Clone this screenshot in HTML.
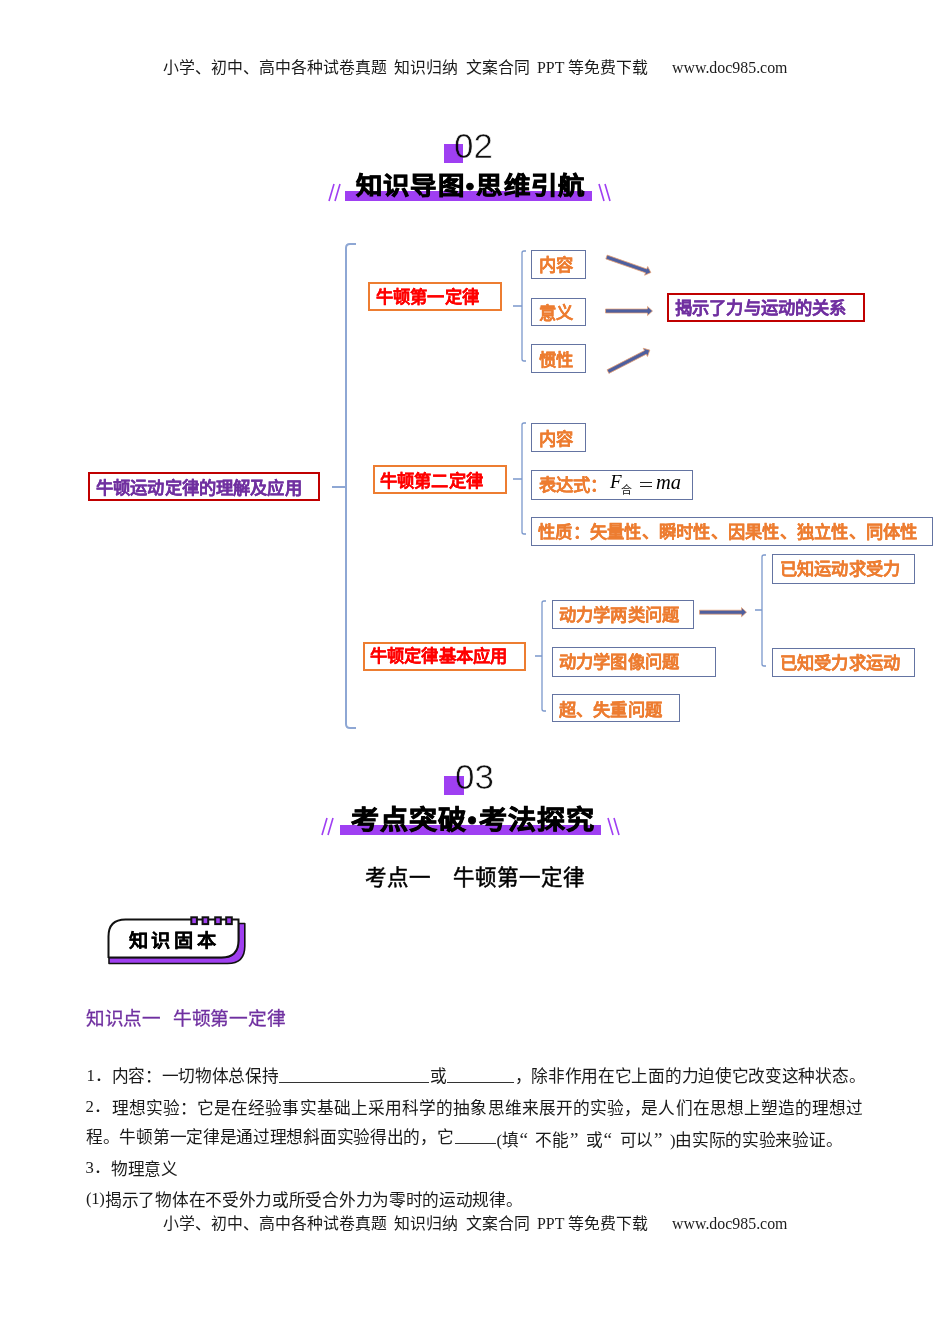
<!DOCTYPE html>
<html lang="zh-CN">
<head>
<meta charset="utf-8">
<style>
html,body{margin:0;padding:0;background:#fff;}
body{width:950px;height:1344px;position:relative;overflow:hidden;font-family:"Liberation Serif",serif;color:#000;}
.a{position:absolute;white-space:nowrap;line-height:1;}
svg.a{overflow:visible;}
.hdr{font-size:15.9px;color:#1a1a1a;}
.sq{position:absolute;background:#9f3ff2;}
.num{font-family:"Liberation Sans",sans-serif;font-size:35px;color:#111;-webkit-text-stroke:0.6px #fff;mix-blend-mode:multiply;}
.ttl{font-family:"Liberation Sans",sans-serif;font-weight:bold;font-size:24px;color:#000;-webkit-text-stroke:0.8px #000;}
.g{display:inline-block;}
.box{position:absolute;box-sizing:border-box;}
.ob{border:2px solid #ed7d31;}
.bb{border:1.5px solid #6474a2;}
.rb{border:2px solid #c00000;}
.mm{font-family:"Liberation Sans",sans-serif;font-weight:bold;font-size:17.3px;-webkit-text-stroke:0.12px currentColor;letter-spacing:0.15px;}
.red{color:#ff0000;}
.org{color:#ed7d31;}
.pur{color:#7030a0;}
.bt{font-size:16.7px;color:#1a1a1a;letter-spacing:-0.3px;}
.q{display:inline-block;width:17px;text-align:left;font-size:19px;text-indent:1px;}
.ul{position:absolute;height:1px;background:#333;}
</style>
</head>
<body>
<!-- header -->
<div class="a hdr" style="left:163px;top:60px;">小学、初中、高中各种试卷真题</div>
<div class="a hdr" style="left:394px;top:60px;">知识归纳</div>
<div class="a hdr" style="left:466px;top:60px;">文案合同</div>
<div class="a hdr" style="left:537px;top:60px;">PPT</div>
<div class="a hdr" style="left:568px;top:60px;">等免费下载</div>
<div class="a hdr" style="left:672px;top:60px;">www.doc985.com</div>

<!-- 02 -->
<div class="sq" style="left:444px;top:144px;width:19px;height:19px;"></div>
<div class="a num" style="left:454px;top:127.5px;">02</div>
<div class="sq" style="left:345px;top:191px;width:247px;height:10px;"></div>
<div class="a ttl" style="left:357px;top:173.5px;letter-spacing:3.2px;"><span class="g" style="transform-origin:12px 50%;transform:scaleX(1.1)">知</span><span class="g" style="transform-origin:12px 50%;transform:scaleX(1.1)">识</span><span class="g" style="transform-origin:12px 50%;transform:scaleX(1.1)">导</span><span class="g" style="transform-origin:12px 50%;transform:scaleX(1.1)">图</span>•<span class="g" style="transform-origin:12px 50%;transform:scaleX(1.1)">思</span><span class="g" style="transform-origin:12px 50%;transform:scaleX(1.1)">维</span><span class="g" style="transform-origin:12px 50%;transform:scaleX(1.1)">引</span><span class="g" style="transform-origin:12px 50%;transform:scaleX(1.1)">航</span></div>
<svg class="a" style="left:328px;top:183px" width="14" height="20"><path d="M6 1 L1 18 M12 1 L7 18" stroke="#9f3ff2" stroke-width="1.6" fill="none"/></svg>
<svg class="a" style="left:597px;top:183px" width="14" height="20"><path d="M2 1 L7 18 M8 1 L13 18" stroke="#9f3ff2" stroke-width="1.6" fill="none"/></svg>

<!-- mind map lines -->
<svg class="a" style="left:0;top:0" width="950" height="760">
 <g fill="none" stroke="#8ea7d4" stroke-width="2">
  <path d="M356 244 L350 244 Q346 244 346 248 L346 724 Q346 728 350 728 L356 728"/>
  <path d="M332 487 L346 487"/>
 </g>
 <g fill="none" stroke="#7b98cc" stroke-width="1.3">
  <path d="M526 251 L524 251 Q522 251 522 253 L522 359 Q522 361 524 361 L526 361 M513 306 L522 306"/>
  <path d="M526 423 L524 423 Q522 423 522 425 L522 532 Q522 534 524 534 L526 534 M513 479 L522 479"/>
  <path d="M546 601 L544 601 Q542 601 542 603 L542 709 Q542 711 544 711 L546 711 M535 656 L542 656"/>
  <path d="M766 555 L764 555 Q762 555 762 557 L762 664 Q762 666 764 666 L766 666 M755 610 L762 610"/>
 </g>
 <g fill="#4e5f9f" stroke="#eba070" stroke-width="0.7" stroke-linejoin="miter">
  <path d="M0 -2 L42 -2 L42 -4.6 L47 0 L42 4.6 L42 2 L0 2 Z" transform="translate(606.5 257) rotate(19.3)"/>
  <path d="M0 -2 L42 -2 L42 -4.6 L47 0 L42 4.6 L42 2 L0 2 Z" transform="translate(605.5 311)"/>
  <path d="M0 -2 L42 -2 L42 -4.6 L47 0 L42 4.6 L42 2 L0 2 Z" transform="translate(608 371.6) rotate(-27.2)"/>
  <path d="M0 -2 L42 -2 L42 -4.6 L47 0 L42 4.6 L42 2 L0 2 Z" transform="translate(699.5 612.2)"/>
 </g>
</svg>

<!-- first law -->
<div class="box ob" style="left:368px;top:282px;width:134px;height:29px;"></div>
<div class="a mm red" style="left:376px;top:289px;">牛顿第一定律</div>
<div class="box bb" style="left:531px;top:250px;width:55px;height:29px;"></div>
<div class="a mm org" style="left:539px;top:257px;">内容</div>
<div class="box bb" style="left:531px;top:298px;width:55px;height:28px;"></div>
<div class="a mm org" style="left:539px;top:305px;">意义</div>
<div class="box bb" style="left:531px;top:344px;width:55px;height:29px;"></div>
<div class="a mm org" style="left:539px;top:351.5px;">惯性</div>
<div class="box rb" style="left:667px;top:293px;width:198px;height:29px;"></div>
<div class="a mm pur" style="left:675px;top:300px;">揭示了力与运动的关系</div>

<!-- root -->
<div class="box rb" style="left:88px;top:472px;width:232px;height:29px;"></div>
<div class="a mm pur" style="left:96px;top:480px;">牛顿运动定律的理解及应用</div>

<!-- second law -->
<div class="box ob" style="left:373px;top:465px;width:134px;height:29px;"></div>
<div class="a mm red" style="left:380px;top:472.5px;">牛顿第二定律</div>
<div class="box bb" style="left:531px;top:423px;width:55px;height:29px;"></div>
<div class="a mm org" style="left:539px;top:431px;">内容</div>
<div class="box bb" style="left:531px;top:470px;width:162px;height:30px;"></div>
<div class="a mm org" style="left:539px;top:477px;">表达式：</div>
<div class="a" style="left:610px;top:472px;font-family:'Liberation Serif',serif;font-size:19px;font-style:italic;color:#000;">F</div>
<div class="a" style="left:621px;top:485px;font-family:'Liberation Sans',sans-serif;font-size:11px;color:#111;">合</div>
<div class="a" style="left:640px;top:481.6px;width:11.5px;height:1.1px;background:#222;"></div>
<div class="a" style="left:640px;top:485.6px;width:11.5px;height:1.1px;background:#222;"></div>
<div class="a" style="left:656px;top:472px;font-family:'Liberation Serif',serif;font-size:20.5px;font-style:italic;color:#000;">ma</div>
<div class="box bb" style="left:531px;top:517px;width:402px;height:29px;"></div>
<div class="a mm org" style="left:538px;top:524px;letter-spacing:0.25px;">性质：矢量性、瞬时性、因果性、独立性、同体性</div>

<!-- third -->
<div class="box ob" style="left:363px;top:642px;width:163px;height:29px;"></div>
<div class="a mm red" style="left:370px;top:648px;">牛顿定律基本应用</div>
<div class="box bb" style="left:552px;top:600px;width:142px;height:28.5px;"></div>
<div class="a mm org" style="left:559px;top:607px;">动力学两类问题</div>
<div class="box bb" style="left:552px;top:647px;width:164px;height:30px;"></div>
<div class="a mm org" style="left:559px;top:654px;">动力学图像问题</div>
<div class="box bb" style="left:552px;top:694px;width:128px;height:28px;"></div>
<div class="a mm org" style="left:559px;top:701.5px;">超、失重问题</div>
<div class="box bb" style="left:772px;top:554px;width:143px;height:29.5px;"></div>
<div class="a mm org" style="left:780px;top:561px;">已知运动求受力</div>
<div class="box bb" style="left:772px;top:648px;width:143px;height:29px;"></div>
<div class="a mm org" style="left:780px;top:655px;">已知受力求运动</div>

<!-- 03 -->
<div class="sq" style="left:444px;top:776px;width:20px;height:19px;"></div>
<div class="a num" style="left:455px;top:759px;">03</div>
<div class="sq" style="left:340px;top:825px;width:261px;height:10px;"></div>
<div class="a ttl" style="left:351.5px;top:807px;font-size:26px;letter-spacing:3px;"><span class="g" style="transform-origin:13px 50%;transform:scaleX(1.08)">考</span><span class="g" style="transform-origin:13px 50%;transform:scaleX(1.08)">点</span><span class="g" style="transform-origin:13px 50%;transform:scaleX(1.08)">突</span><span class="g" style="transform-origin:13px 50%;transform:scaleX(1.08)">破</span>•<span class="g" style="transform-origin:13px 50%;transform:scaleX(1.08)">考</span><span class="g" style="transform-origin:13px 50%;transform:scaleX(1.08)">法</span><span class="g" style="transform-origin:13px 50%;transform:scaleX(1.08)">探</span><span class="g" style="transform-origin:13px 50%;transform:scaleX(1.08)">究</span></div>
<svg class="a" style="left:321px;top:817px" width="14" height="20"><path d="M6 1 L1 18 M12 1 L7 18" stroke="#9f3ff2" stroke-width="1.6" fill="none"/></svg>
<svg class="a" style="left:606px;top:817px" width="14" height="20"><path d="M2 1 L7 18 M8 1 L13 18" stroke="#9f3ff2" stroke-width="1.6" fill="none"/></svg>

<div class="a" style="left:364.5px;top:868px;font-size:21.5px;-webkit-text-stroke:0.5px #000;">考点一</div>
<div class="a" style="left:453px;top:868px;font-size:21.5px;-webkit-text-stroke:0.5px #000;">牛顿第一定律</div>

<!-- badge -->
<svg class="a" style="left:100px;top:910px" width="160" height="60">
 <path d="M9 47.5 L9 53.5 L127.5 53.5 Q144.8 53.5 144.8 36.2 L144.8 13.5 L138.5 13.5 L138.5 30.5 Q138.5 47.5 121.5 47.5 Z" fill="#a040f0" stroke="#111" stroke-width="1.6" stroke-linejoin="round"/>
 <path d="M8.5 48 L8.5 26.5 Q8.5 9.5 25.5 9.5 L138.5 9.5 L138.5 30.5 Q138.5 47.5 121.5 47.5 L8.5 47.5 Z" fill="#fff" stroke="#111" stroke-width="2"/>
 <g fill="#a040f0" stroke="#111" stroke-width="2">
  <rect x="91.3" y="7.3" width="5.6" height="6.8"/>
  <rect x="102.6" y="7.3" width="5.6" height="6.8"/>
  <rect x="115.2" y="7.3" width="5.6" height="6.8"/>
  <rect x="126.2" y="7.3" width="5.6" height="6.8"/>
 </g>
</svg>
<div class="a" style="left:129.5px;top:932px;font-family:'Liberation Sans',sans-serif;font-weight:bold;font-size:18px;letter-spacing:4.85px;-webkit-text-stroke:0.15px #000;"><span class="g" style="transform-origin:9px 50%;transform:scaleX(1.07)">知</span><span class="g" style="transform-origin:9px 50%;transform:scaleX(1.07)">识</span><span class="g" style="transform-origin:9px 50%;transform:scaleX(1.07)">固</span><span class="g" style="transform-origin:9px 50%;transform:scaleX(1.07)">本</span></div>

<div class="a pur" style="left:86px;top:1010px;font-size:18.6px;letter-spacing:-0.4px;-webkit-text-stroke:0.3px #7030a0;">知识点一</div>
<div class="a pur" style="left:173px;top:1010px;font-size:18.7px;letter-spacing:-0.3px;-webkit-text-stroke:0.3px #7030a0;">牛顿第一定律</div>

<!-- body -->
<div class="a bt" style="left:86.5px;top:1068px;">1．</div>
<div class="a bt" style="left:111.6px;top:1069px;">内容：一切物体总保持</div>
<div class="ul" style="left:279px;top:1082px;width:150px;"></div>
<div class="a bt" style="left:430px;top:1069px;">或</div>
<div class="ul" style="left:447px;top:1082px;width:67px;"></div>
<div class="a bt" style="left:514.5px;top:1069px;">，除非作用在它上面的力迫使它改变这种状态。</div>

<div class="a bt" style="left:85.5px;top:1099px;">2．</div>
<div class="a bt" style="left:111.6px;top:1101px;letter-spacing:0.09px;">理想实验：它是在经验事实基础上采用科学的抽象思维来展开的实验，是人们在思想上塑造的理想过</div>

<div class="a bt" style="left:86px;top:1130px;">程。牛顿第一定律是通过理想斜面实验得出的，它</div>
<div class="ul" style="left:455px;top:1143px;width:41px;"></div>
<div class="a bt" style="left:496.5px;top:1130px;">(填<span class="q">“</span>不能<span class="q">”</span>或<span class="q">“</span>可以<span class="q">”</span>)由实际的实验来验证。</div>

<div class="a bt" style="left:85.5px;top:1159.5px;">3．</div>
<div class="a bt" style="left:111px;top:1161.5px;">物理意义</div>
<div class="a bt" style="left:86px;top:1191px;">(1)</div>
<div class="a bt" style="left:105px;top:1192.5px;">揭示了物体在不受外力或所受合外力为零时的运动规律。</div>

<!-- footer -->
<div class="a hdr" style="left:163px;top:1216px;">小学、初中、高中各种试卷真题</div>
<div class="a hdr" style="left:394px;top:1216px;">知识归纳</div>
<div class="a hdr" style="left:466px;top:1216px;">文案合同</div>
<div class="a hdr" style="left:537px;top:1216px;">PPT</div>
<div class="a hdr" style="left:568px;top:1216px;">等免费下载</div>
<div class="a hdr" style="left:672px;top:1216px;">www.doc985.com</div>
</body>
</html>
